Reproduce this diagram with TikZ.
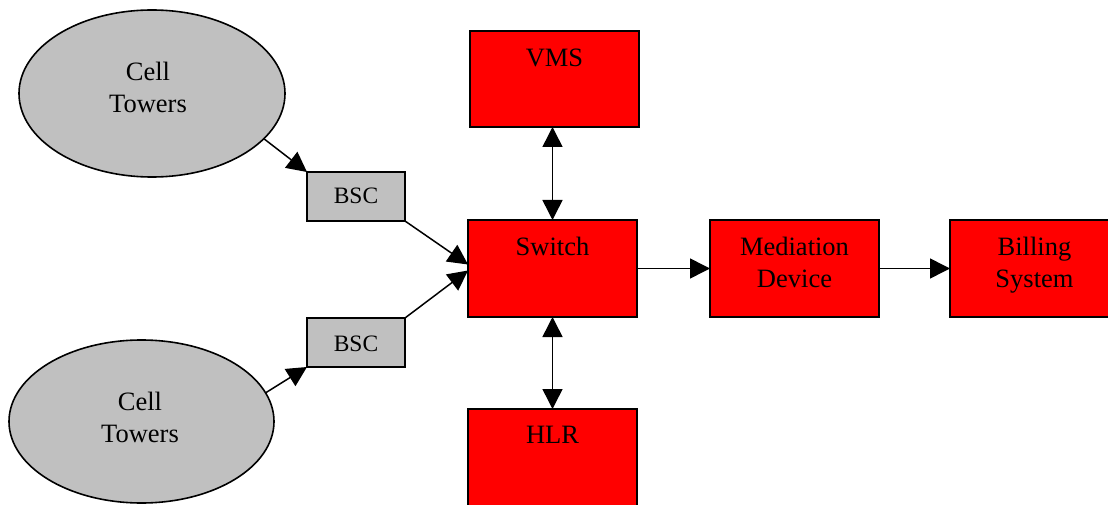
\documentclass[tikz,border=0pt]{standalone}
\usepackage{fontspec}
\setmainfont{Liberation Serif}
\usetikzlibrary{shapes.geometric,arrows.meta,calc}
\definecolor{cellgray}{HTML}{C0C0C0}
\definecolor{boxred}{HTML}{FF0000}
\begin{document}
\begin{tikzpicture}[x=1pt,y=-1pt,
  redbox/.style={draw=black, line width=2pt, fill=boxred, minimum width=169pt,
    minimum height=97pt, inner sep=0pt, outer sep=0pt, anchor=north west},
  bscbox/.style={draw=black, line width=2pt, fill=cellgray, minimum width=98pt,
    minimum height=49pt, inner sep=0pt, outer sep=0pt, anchor=north west},
  cell/.style={ellipse, draw=black, line width=1.6pt, fill=cellgray, inner sep=0pt, outer sep=0pt},
  txt/.style={inner sep=0pt, outer sep=0pt, font=\fontsize{26.5}{32}\selectfont},
  two/.style={txt, align=center, anchor=north},
  small/.style={inner sep=0pt, outer sep=0pt, font=\fontsize{23.5}{28}\selectfont, anchor=base},
  conn/.style={line width=1.5pt, -{Triangle[length=20pt,width=20pt]}},
  bidir/.style={line width=1.5pt, {Triangle[length=20pt,width=20pt]}-{Triangle[length=20pt,width=20pt]}}
]
\fill[white] (0,0) rectangle (1108,505);
\useasboundingbox (0,0) rectangle (1108,505);
\clip (0,0) rectangle (1108,505);

% cell towers
\node[cell, minimum width=266pt, minimum height=167pt] (ct1) at (152,93.5) {};
\node[cell, minimum width=265pt, minimum height=163pt] (ct2) at (141.5,421.5) {};
\node[two] (ct1l) at (148,{81-22.4}) {\strut Cell\\\strut Towers};
\node[two] (ct2l) at (140,{410-22.4}) {\strut Cell\\\strut Towers};

% BSC boxes
\node[bscbox] (bsc1) at (307,172) {};
\node[bscbox] (bsc2) at (307,318) {};
\node[small] (bsc1l) at (356,204) {BSC};
\node[small] (bsc2l) at (356,351) {BSC};

% red boxes
\node[redbox, minimum height=96pt] (vms) at (470,31) {};
\node[redbox] (sw) at (468,220) {};
\node[redbox] (med) at (710,220) {};
\node[redbox] (bill) at (950,220) {};
\node[redbox] (hlr) at (468,409) {};

\node[txt, anchor=base] (vmsl) at (554.5,67) {VMS};
\node[txt, anchor=base] (swl) at (552.5,255) {Switch};
\node[two] (medl) at (794.5,{255-22.4}) {\strut Mediation\\\strut Device};
\node[two] (billl) at (1034.5,{255-22.4}) {\strut Billing\\\strut System};
\node[txt, anchor=base] (hlrl) at (552.5,443) {HLR};

% connectors
\draw[conn] (ct1.-22) -- (bsc1.north west);
\draw[conn] (ct2.13) -- (bsc2.south west);
\draw[conn] (bsc1.south east) -- ($(sw.west)+(0,-4)$);
\draw[conn] (bsc2.north east) -- ($(sw.west)+(0,2)$);
\draw[bidir] (sw.north) -- (sw.north |- vms.south);
\draw[bidir] (sw.south) -- (sw.south |- hlr.north);
\draw[conn] (sw.east) -- (med.west);
\draw[conn] (med.east) -- (bill.west);
\end{tikzpicture}
\end{document}
